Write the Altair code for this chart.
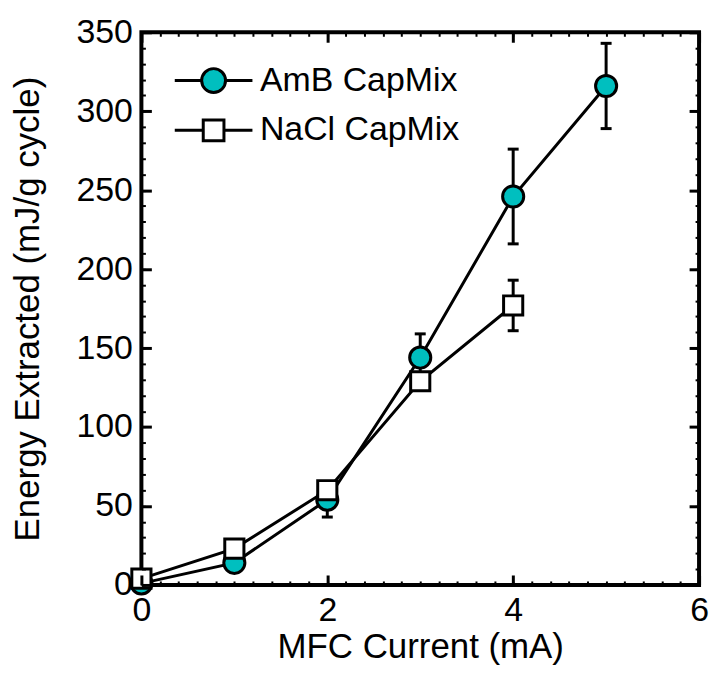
import altair as alt
import pandas as pd

# ---- data ----
series_names = ["AmB CapMix", "NaCl CapMix"]
amb_x = [0, 1, 2, 3, 4, 5]
amb_y = [1, 14, 54, 144, 246, 316]
amb_err = [1, 2, 11, 15, 30, 27]
nacl_x = [0, 1, 2, 3, 4]
nacl_y = [4, 23, 60, 129, 177]
nacl_err = [1, 2, 3, 5, 16]

x_major = [0, 2, 4, 6]
x_minor = [round(i * 0.2, 1) for i in range(31)]
y_major = [0, 50, 100, 150, 200, 250, 300, 350]
y_minor = list(range(0, 351, 10))

TEAL = "#00BFBF"
FONT = "Liberation Sans"

rows = []
for xs, ys, es, name in [(amb_x, amb_y, amb_err, series_names[0]),
                         (nacl_x, nacl_y, nacl_err, series_names[1])]:
    for a, b, c in zip(xs, ys, es):
        rows.append({"series": name, "x": a, "y": b, "err": c})
df = pd.DataFrame(rows)

xscale = alt.Scale(domain=[0, 6], nice=False, zero=False)
yscale = alt.Scale(domain=[0, 350], nice=False, zero=False)


def xaxis(kind):
    common = dict(domain=False, grid=False, tickColor="black", zindex=1)
    if kind == "main":
        return alt.Axis(orient="bottom", values=x_major, offset=-10, tickSize=10, tickWidth=3,
                        labels=True, labelFont=FONT, labelFontSize=34, labelColor="black",
                        labelPadding=9, labelFlush=False, labelOverlap=False,
                        title="MFC Current (mA)", titleFont=FONT, titleFontSize=35,
                        titleFontWeight="normal", titleColor="black", titlePadding=2, **common)
    if kind == "minor_b":
        return alt.Axis(orient="bottom", values=x_minor, offset=-4, tickSize=4, tickWidth=2,
                        labels=False, title=None, **common)
    if kind == "major_t":
        return alt.Axis(orient="top", values=x_major, offset=-10, tickSize=10, tickWidth=3,
                        labels=False, title=None, **common)
    return alt.Axis(orient="top", values=x_minor, offset=-4, tickSize=4, tickWidth=2,
                    labels=False, title=None, **common)


def yaxis(kind):
    common = dict(domain=False, grid=False, tickColor="black", zindex=1)
    if kind == "main":
        return alt.Axis(orient="left", values=y_major, offset=-10, tickSize=10, tickWidth=3,
                        labels=True, labelFont=FONT, labelFontSize=34, labelColor="black",
                        labelPadding=9, labelFlush=False, labelOverlap=False,
                        title="Energy Extracted (mJ/g cycle)", titleFont=FONT, titleFontSize=35,
                        titleFontWeight="normal", titleColor="black", titlePadding=31, **common)
    if kind == "minor_l":
        return alt.Axis(orient="left", values=y_minor, offset=-4, tickSize=4, tickWidth=2,
                        labels=False, title=None, **common)
    if kind == "major_r":
        return alt.Axis(orient="right", values=y_major, offset=-10, tickSize=10, tickWidth=3,
                        labels=False, title=None, **common)
    return alt.Axis(orient="right", values=y_minor, offset=-4, tickSize=4, tickWidth=2,
                    labels=False, title=None, **common)


base = alt.Chart(df)

rules = base.transform_calculate(
    lo="datum.y - datum.err", hi="datum.y + datum.err"
).mark_rule(color="black", strokeWidth=3, opacity=1).encode(
    x=alt.X("x:Q", scale=xscale, axis=xaxis("main")),
    y=alt.Y("lo:Q", scale=yscale, axis=yaxis("main")),
    y2="hi:Q",
)

caps = base.transform_calculate(
    lo="datum.y - datum.err", hi="datum.y + datum.err"
).transform_fold(["lo", "hi"], as_=["end", "yv"]).mark_tick(
    orient="horizontal", color="black", size=11, thickness=3, opacity=1
).encode(
    x=alt.X("x:Q", scale=xscale, axis=xaxis("minor_b")),
    y=alt.Y("yv:Q", scale=yscale, axis=yaxis("minor_l")),
)

lines = base.mark_line(color="black", strokeWidth=3).encode(
    x=alt.X("x:Q", scale=xscale, axis=xaxis("major_t")),
    y=alt.Y("y:Q", scale=yscale, axis=yaxis("major_r")),
    detail="series:N",
    order="x:Q",
)

points = base.mark_point(filled=True, stroke="black", strokeWidth=3, opacity=1).encode(
    x=alt.X("x:Q", scale=xscale, axis=xaxis("minor_t")),
    y=alt.Y("y:Q", scale=yscale, axis=yaxis("minor_r")),
    fill=alt.Fill("series:N", scale=alt.Scale(domain=series_names, range=[TEAL, "white"]),
                  legend=None),
    shape=alt.Shape("series:N", scale=alt.Scale(domain=series_names, range=["circle", "square"]),
                    legend=None),
    size=alt.Size("series:N", scale=alt.Scale(domain=series_names, range=[450, 370]),
                  legend=None),
)

# legend-only layers: line-with-marker symbols (no marks drawn, entries come from scale domains)
circle_path = ("M-1.95,0L-0.6,0M0.6,0L1.95,0"
               "M-0.6,0A0.6,0.6 0 1,1 0.6,0A0.6,0.6 0 1,1 -0.6,0Z")
square_path = ("M-1.95,0L-0.52,0M0.52,0L1.95,0"
               "M-0.52,-0.52L0.52,-0.52L0.52,0.52L-0.52,0.52Z")


def legend_layer(name, color, path, ly):
    return base.transform_filter("false").mark_point(
        filled=True, stroke="black", strokeWidth=3, opacity=1, shape=path
    ).encode(
        x=alt.X("x:Q", scale=xscale, axis=None),
        y=alt.Y("y:Q", scale=yscale, axis=None),
        fill=alt.Fill("series:N", scale=alt.Scale(domain=[name], range=[color]),
                      legend=alt.Legend(
                          title=None, orient="none", legendX=51, legendY=ly,
                          padding=0, symbolSize=1600, symbolType=path,
                          labelFont=FONT, labelFontSize=34, labelColor="black",
                          labelLimit=500, labelOffset=25,
                          symbolStrokeColor="black", symbolStrokeWidth=3,
                          symbolOpacity=1,
                      )),
    )


leg_a = legend_layer(series_names[0], TEAL, circle_path, 27)
leg_b = legend_layer(series_names[1], "white", square_path, 77)

chart = alt.layer(rules, caps, lines, points, leg_a, leg_b).resolve_axis(
    x="independent", y="independent"
).resolve_scale(
    fill="independent", shape="independent", size="independent"
).resolve_legend(
    fill="independent"
).properties(
    width=560, height=555,
    padding={"left": 10, "top": 14, "right": 3, "bottom": 5},
).configure_view(
    stroke="black", strokeWidth=4
)

chart.save("out.html", embed_options={"renderer": "svg", "actions": False})
